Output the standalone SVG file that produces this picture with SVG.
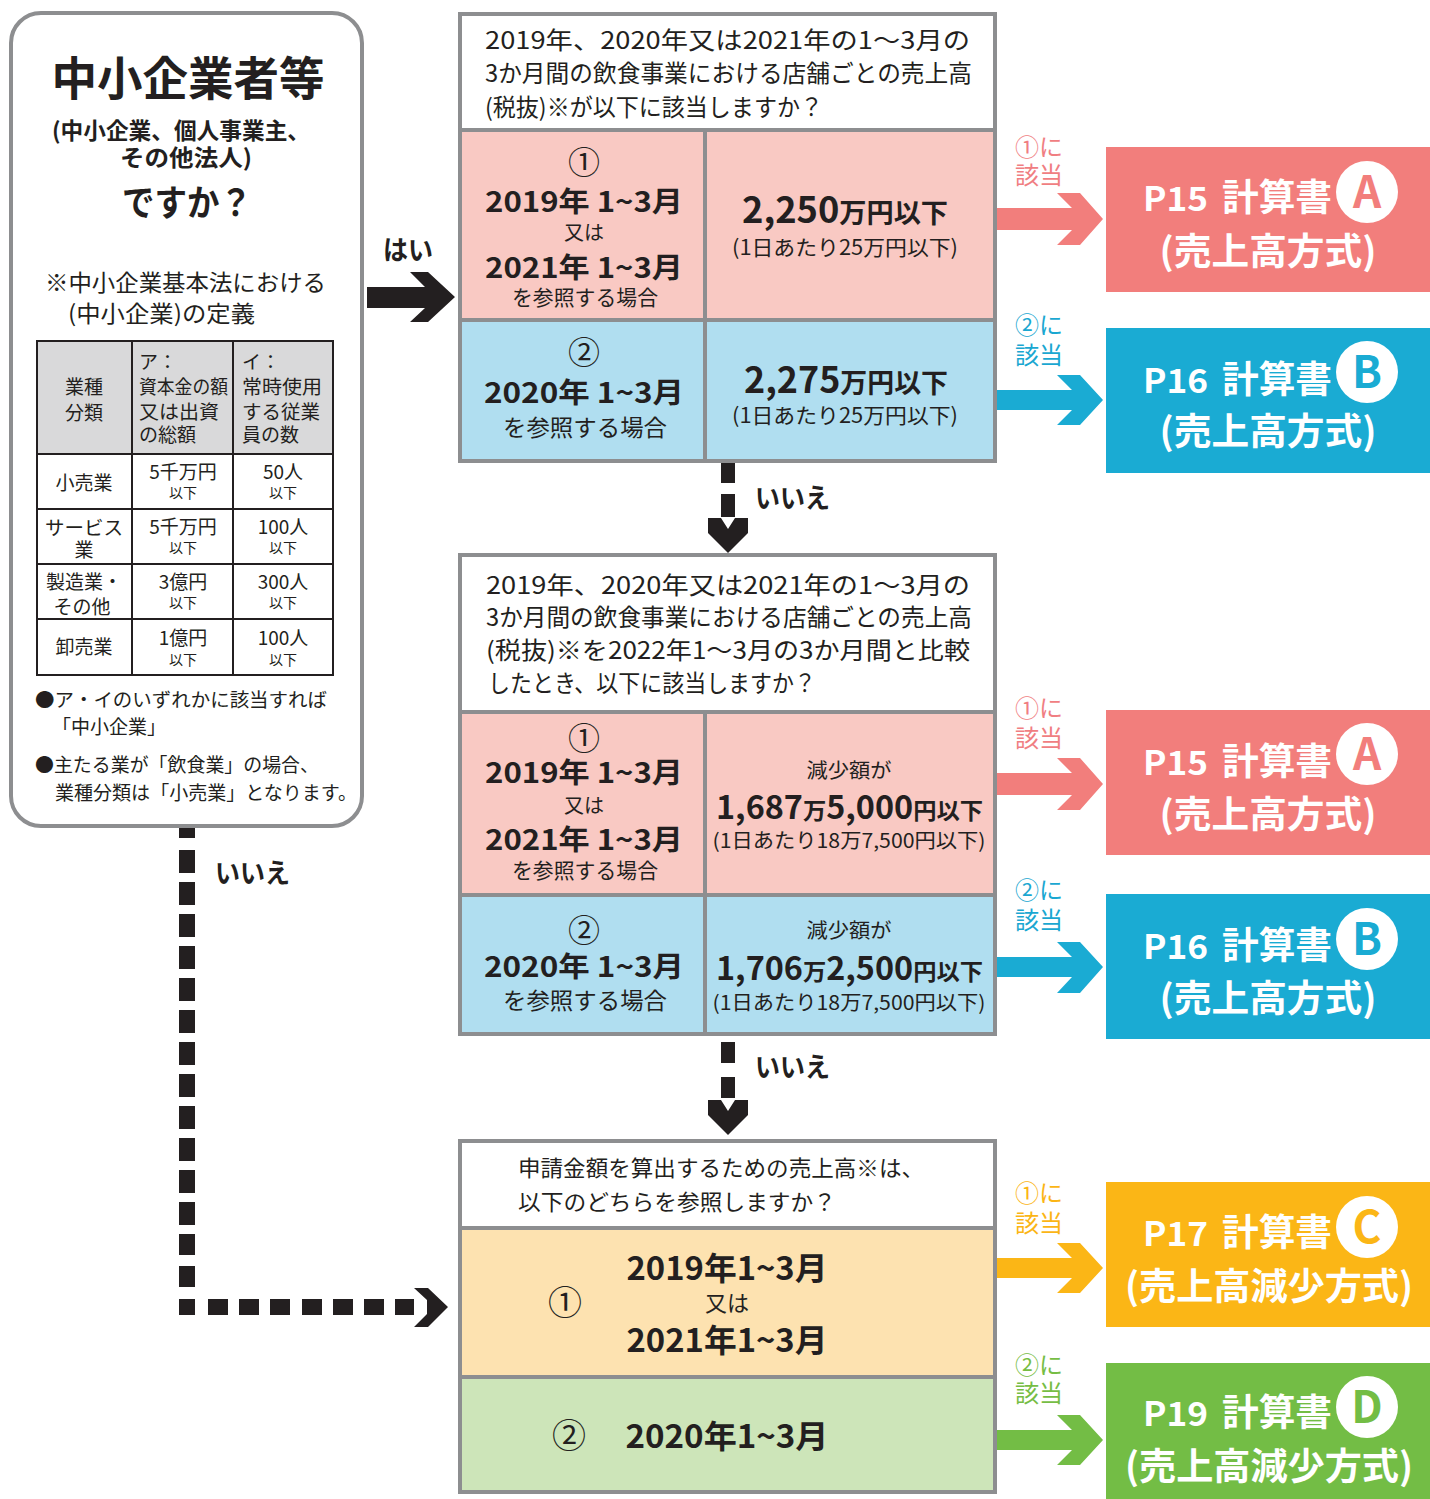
<svg xmlns="http://www.w3.org/2000/svg" width="1430" height="1499" viewBox="0 0 1430 1499">
<style>
.t{font-family:"Noto Sans CJK JP","Noto Sans",sans-serif;fill:#231f20}
.b{font-weight:700}
.m{text-anchor:middle}
.w{fill:#fff}
.brd{fill:none;stroke:#8d8e90;stroke-width:4}
.ln{stroke:#8d8e90;stroke-width:4}
.tb{fill:none;stroke:#231f20;stroke-width:2}
.blk{fill:#231f20}
.pk{fill:#f27e7c}
.bl{fill:#1aabd3}
.or{fill:#fbb616}
.gr{fill:#73bd45}
</style>
<rect width="1430" height="1499" fill="#fff"/>

<g id="sme-question">
<rect x="11" y="13" width="351" height="813" rx="30" ry="30" fill="#fff" stroke="#8d8e90" stroke-width="4"/>
<text class="t b m" x="188" y="95" font-size="46" textLength="273" lengthAdjust="spacingAndGlyphs">中小企業者等</text>
<text class="t b" x="52" y="139" font-size="23" textLength="258" lengthAdjust="spacingAndGlyphs">(中小企業、個人事業主、</text>
<text class="t b" x="120" y="166" font-size="23" textLength="132" lengthAdjust="spacingAndGlyphs">その他法人)</text>
<text class="t b" x="122" y="216" font-size="36" textLength="130" lengthAdjust="spacingAndGlyphs">ですか？</text>
<text class="t" x="45" y="291" font-size="23" textLength="281" lengthAdjust="spacingAndGlyphs">※中小企業基本法における</text>
<text class="t" x="68" y="322" font-size="23" textLength="187" lengthAdjust="spacingAndGlyphs">(中小企業)の定義</text>
<rect x="37" y="341" width="296" height="113" fill="#d9d9da"/>
<rect x="37" y="341" width="296" height="334" class="tb"/>
<path class="tb" d="M132,341V675M233,341V675M37,454H333M37,509H333M37,564H333M37,619H333"/>
<g font-size="19">
<text class="t m" x="84" y="394">業種</text>
<text class="t m" x="84" y="420">分類</text>
<text class="t" x="139" y="369">ア：</text>
<text class="t" x="139" y="394" textLength="89" lengthAdjust="spacingAndGlyphs">資本金の額</text>
<text class="t" x="139" y="419" textLength="80" lengthAdjust="spacingAndGlyphs">又は出資</text>
<text class="t" x="139" y="442">の総額</text>
<text class="t" x="242" y="369">イ：</text>
<text class="t" x="242" y="394" textLength="80" lengthAdjust="spacingAndGlyphs">常時使用</text>
<text class="t" x="242" y="419" textLength="78" lengthAdjust="spacingAndGlyphs">する従業</text>
<text class="t" x="242" y="442">員の数</text>
<text class="t m" x="84" y="490">小売業</text>
<text class="t m" x="183" y="479">5千万円</text>
<text class="t m" x="283" y="479">50人</text>
<text class="t m" x="84" y="535" textLength="78" lengthAdjust="spacingAndGlyphs">サービス</text>
<text class="t m" x="84" y="557">業</text>
<text class="t m" x="183" y="534">5千万円</text>
<text class="t m" x="283" y="534">100人</text>
<text class="t m" x="84" y="589">製造業・</text>
<text class="t m" x="82" y="614">その他</text>
<text class="t m" x="183" y="589">3億円</text>
<text class="t m" x="283" y="589">300人</text>
<text class="t m" x="84" y="654">卸売業</text>
<text class="t m" x="183" y="645">1億円</text>
<text class="t m" x="283" y="645">100人</text>
</g>
<g font-size="14">
<text class="t m" x="183" y="498">以下</text>
<text class="t m" x="283" y="498">以下</text>
<text class="t m" x="183" y="553">以下</text>
<text class="t m" x="283" y="553">以下</text>
<text class="t m" x="183" y="608">以下</text>
<text class="t m" x="283" y="608">以下</text>
<text class="t m" x="183" y="665">以下</text>
<text class="t m" x="283" y="665">以下</text>
</g>
<g font-size="19">
<text class="t" x="35" y="707" textLength="292" lengthAdjust="spacingAndGlyphs">●ア・イのいずれかに該当すれば</text>
<text class="t" x="52" y="734">「中小企業」</text>
<text class="t" x="35" y="772" textLength="284" lengthAdjust="spacingAndGlyphs">●主たる業が「飲食業」の場合、</text>
<text class="t" x="55" y="800" textLength="302" lengthAdjust="spacingAndGlyphs">業種分類は「小売業」となります。</text>
</g>
</g>

<g id="q1">
<rect x="460" y="14" width="535" height="116" fill="#fff"/>
<rect x="460" y="130" width="535" height="190" fill="#f9c9c3"/>
<rect x="460" y="320" width="535" height="141" fill="#b0def0"/>
<rect x="460" y="14" width="535" height="447" class="brd"/>
<path class="ln" d="M460,130H995M460,320H995M705,130V461"/>
<g font-size="24">
<text class="t" x="485" y="49" textLength="485" lengthAdjust="spacingAndGlyphs">2019年、2020年又は2021年の1～3月の</text>
<text class="t" x="485" y="82" textLength="487" lengthAdjust="spacingAndGlyphs">3か月間の飲食事業における店舗ごとの売上高</text>
<text class="t" x="485" y="116" textLength="338" lengthAdjust="spacingAndGlyphs">(税抜)※が以下に該当しますか？</text>
</g>
<text class="t m" x="584" y="174" font-size="32">①</text>
<text class="t b m" x="584" y="212" font-size="28" textLength="198" lengthAdjust="spacingAndGlyphs">2019年 1~3月</text>
<text class="t m" x="584" y="240" font-size="20">又は</text>
<text class="t b m" x="584" y="278" font-size="28" textLength="198" lengthAdjust="spacingAndGlyphs">2021年 1~3月</text>
<text class="t m" x="585" y="305" font-size="21" textLength="146" lengthAdjust="spacingAndGlyphs">を参照する場合</text>
<text class="t b" x="742" y="223" textLength="206" lengthAdjust="spacingAndGlyphs"><tspan font-size="36">2,250</tspan><tspan font-size="27">万円以下</tspan></text>
<text class="t m" x="845" y="255" font-size="21" textLength="226" lengthAdjust="spacingAndGlyphs">(1日あたり25万円以下)</text>
<text class="t m" x="584" y="364" font-size="32">②</text>
<text class="t b m" x="584" y="403" font-size="28" textLength="200" lengthAdjust="spacingAndGlyphs">2020年 1~3月</text>
<text class="t m" x="585" y="436" font-size="23" textLength="164" lengthAdjust="spacingAndGlyphs">を参照する場合</text>
<text class="t b" x="744" y="393" textLength="204" lengthAdjust="spacingAndGlyphs"><tspan font-size="36">2,275</tspan><tspan font-size="27">万円以下</tspan></text>
<text class="t m" x="845" y="423" font-size="21" textLength="226" lengthAdjust="spacingAndGlyphs">(1日あたり25万円以下)</text>
</g>

<g id="q2">
<rect x="460" y="555" width="535" height="157" fill="#fff"/>
<rect x="460" y="712" width="535" height="183" fill="#f9c9c3"/>
<rect x="460" y="895" width="535" height="139" fill="#b0def0"/>
<rect x="460" y="555" width="535" height="479" class="brd"/>
<path class="ln" d="M460,712H995M460,895H995M705,712V1034"/>
<g font-size="24">
<text class="t" x="486" y="594" textLength="484" lengthAdjust="spacingAndGlyphs">2019年、2020年又は2021年の1～3月の</text>
<text class="t" x="486" y="626" textLength="486" lengthAdjust="spacingAndGlyphs">3か月間の飲食事業における店舗ごとの売上高</text>
<text class="t" x="486" y="659" textLength="484" lengthAdjust="spacingAndGlyphs">(税抜)※を2022年1～3月の3か月間と比較</text>
<text class="t" x="488" y="692" textLength="328" lengthAdjust="spacingAndGlyphs">したとき、以下に該当しますか？</text>
</g>
<text class="t m" x="584" y="750" font-size="32">①</text>
<text class="t b m" x="584" y="783" font-size="28" textLength="198" lengthAdjust="spacingAndGlyphs">2019年 1~3月</text>
<text class="t m" x="584" y="813" font-size="20">又は</text>
<text class="t b m" x="584" y="850" font-size="28" textLength="198" lengthAdjust="spacingAndGlyphs">2021年 1~3月</text>
<text class="t m" x="585" y="878" font-size="21" textLength="146" lengthAdjust="spacingAndGlyphs">を参照する場合</text>
<text class="t m" x="849" y="778" font-size="20" textLength="85" lengthAdjust="spacingAndGlyphs">減少額が</text>
<text class="t b" x="716" y="819" textLength="267" lengthAdjust="spacingAndGlyphs"><tspan font-size="32">1,687</tspan><tspan font-size="23">万</tspan><tspan font-size="32">5,000</tspan><tspan font-size="23">円以下</tspan></text>
<text class="t m" x="849" y="848" font-size="20" textLength="273" lengthAdjust="spacingAndGlyphs">(1日あたり18万7,500円以下)</text>
<text class="t m" x="584" y="942" font-size="32">②</text>
<text class="t b m" x="584" y="977" font-size="28" textLength="200" lengthAdjust="spacingAndGlyphs">2020年 1~3月</text>
<text class="t m" x="585" y="1009" font-size="23" textLength="164" lengthAdjust="spacingAndGlyphs">を参照する場合</text>
<text class="t m" x="849" y="938" font-size="20" textLength="85" lengthAdjust="spacingAndGlyphs">減少額が</text>
<text class="t b" x="716" y="980" textLength="267" lengthAdjust="spacingAndGlyphs"><tspan font-size="32">1,706</tspan><tspan font-size="23">万</tspan><tspan font-size="32">2,500</tspan><tspan font-size="23">円以下</tspan></text>
<text class="t m" x="849" y="1010" font-size="20" textLength="273" lengthAdjust="spacingAndGlyphs">(1日あたり18万7,500円以下)</text>
</g>

<g id="q3">
<rect x="460" y="1141" width="535" height="87" fill="#fff"/>
<rect x="460" y="1228" width="535" height="149" fill="#fde2b0"/>
<rect x="460" y="1377" width="535" height="115" fill="#cde5b9"/>
<rect x="460" y="1141" width="535" height="351" class="brd"/>
<path class="ln" d="M460,1228H995M460,1377H995"/>
<text class="t" x="518" y="1176" font-size="22" textLength="406" lengthAdjust="spacingAndGlyphs">申請金額を算出するための売上高※は、</text>
<text class="t" x="518" y="1210" font-size="22" textLength="318" lengthAdjust="spacingAndGlyphs">以下のどちらを参照しますか？</text>
<text class="t m" x="565" y="1315" font-size="34">①</text>
<text class="t b m" x="727" y="1280" font-size="32" textLength="201" lengthAdjust="spacingAndGlyphs">2019年1~3月</text>
<text class="t m" x="727" y="1311" font-size="22">又は</text>
<text class="t b m" x="727" y="1352" font-size="32" textLength="201" lengthAdjust="spacingAndGlyphs">2021年1~3月</text>
<text class="t m" x="569" y="1448" font-size="34">②</text>
<text class="t b m" x="727" y="1448" font-size="32" textLength="203" lengthAdjust="spacingAndGlyphs">2020年1~3月</text>
</g>

<g id="calc-a1">
<rect x="1106" y="147" width="324" height="145" class="pk"/>
<text class="t b w" x="1143" y="211" font-size="33" textLength="65" lengthAdjust="spacingAndGlyphs">P15</text>
<text class="t b w" x="1222" y="211" font-size="37" textLength="110" lengthAdjust="spacingAndGlyphs">計算書</text>
<circle cx="1367" cy="192" r="31" fill="#fff"/>
<text class="t b m" x="1367" y="208" font-size="44" fill="#f27e7c" style="fill:#f27e7c">A</text>
<text class="t b w m" x="1268" y="265" font-size="37" textLength="217" lengthAdjust="spacingAndGlyphs">(売上高方式)</text>
</g>
<g id="calc-b1">
<rect x="1106" y="328" width="324" height="145" class="bl"/>
<text class="t b w" x="1143" y="393" font-size="33" textLength="65" lengthAdjust="spacingAndGlyphs">P16</text>
<text class="t b w" x="1222" y="393" font-size="37" textLength="110" lengthAdjust="spacingAndGlyphs">計算書</text>
<circle cx="1367" cy="372" r="31" fill="#fff"/>
<text class="t b m" x="1367" y="388" font-size="44" style="fill:#1aabd3">B</text>
<text class="t b w m" x="1268" y="445" font-size="37" textLength="217" lengthAdjust="spacingAndGlyphs">(売上高方式)</text>
</g>
<g id="calc-a2">
<rect x="1106" y="710" width="324" height="145" class="pk"/>
<text class="t b w" x="1143" y="775" font-size="33" textLength="65" lengthAdjust="spacingAndGlyphs">P15</text>
<text class="t b w" x="1222" y="775" font-size="37" textLength="110" lengthAdjust="spacingAndGlyphs">計算書</text>
<circle cx="1367" cy="754" r="31" fill="#fff"/>
<text class="t b m" x="1367" y="770" font-size="44" style="fill:#f27e7c">A</text>
<text class="t b w m" x="1268" y="828" font-size="37" textLength="217" lengthAdjust="spacingAndGlyphs">(売上高方式)</text>
</g>
<g id="calc-b2">
<rect x="1106" y="894" width="324" height="145" class="bl"/>
<text class="t b w" x="1143" y="959" font-size="33" textLength="65" lengthAdjust="spacingAndGlyphs">P16</text>
<text class="t b w" x="1222" y="959" font-size="37" textLength="110" lengthAdjust="spacingAndGlyphs">計算書</text>
<circle cx="1367" cy="939" r="31" fill="#fff"/>
<text class="t b m" x="1367" y="955" font-size="44" style="fill:#1aabd3">B</text>
<text class="t b w m" x="1268" y="1012" font-size="37" textLength="217" lengthAdjust="spacingAndGlyphs">(売上高方式)</text>
</g>
<g id="calc-c">
<rect x="1106" y="1182" width="324" height="145" class="or"/>
<text class="t b w" x="1143" y="1246" font-size="33" textLength="65" lengthAdjust="spacingAndGlyphs">P17</text>
<text class="t b w" x="1222" y="1246" font-size="37" textLength="110" lengthAdjust="spacingAndGlyphs">計算書</text>
<circle cx="1367" cy="1227" r="31" fill="#fff"/>
<text class="t b m" x="1367" y="1243" font-size="44" style="fill:#fbb616">C</text>
<text class="t b w m" x="1269" y="1300" font-size="37" textLength="288" lengthAdjust="spacingAndGlyphs">(売上高減少方式)</text>
</g>
<g id="calc-d">
<rect x="1106" y="1363" width="324" height="136" class="gr"/>
<text class="t b w" x="1143" y="1426" font-size="33" textLength="65" lengthAdjust="spacingAndGlyphs">P19</text>
<text class="t b w" x="1222" y="1426" font-size="37" textLength="110" lengthAdjust="spacingAndGlyphs">計算書</text>
<circle cx="1367" cy="1407" r="31" fill="#fff"/>
<text class="t b m" x="1367" y="1423" font-size="44" style="fill:#73bd45">D</text>
<text class="t b w m" x="1269" y="1480" font-size="37" textLength="288" lengthAdjust="spacingAndGlyphs">(売上高減少方式)</text>
</g>

<g id="connectors">
<text class="t b" x="383" y="260" font-size="27" textLength="50" lengthAdjust="spacingAndGlyphs">はい</text>
<polygon class="blk" points="367,287 425,287 410,272 428,272 455,297 428,322 410,322 425,308 367,308"/>
<path class="blk" d="M721,463h14v20h-14zM721,494h14v23h-14z"/>
<polygon class="blk" points="708,518 721,518 728,529 735,518 748,518 748,533 728,553 708,533"/>
<text class="t b" x="755" y="508" font-size="27" textLength="75" lengthAdjust="spacingAndGlyphs">いいえ</text>
<path class="blk" d="M721,1042h14v21h-14zM721,1077h14v21h-14z"/>
<polygon class="blk" points="708,1100 721,1100 728,1111 735,1100 748,1100 748,1115 728,1135 708,1115"/>
<text class="t b" x="755" y="1077" font-size="27" textLength="75" lengthAdjust="spacingAndGlyphs">いいえ</text>
<path class="blk" d="M179,828h16v10h-16zM179,850h16v23h-16zM179,882h16v23h-16zM179,914h16v23h-16zM179,946h16v23h-16zM179,978h16v23h-16zM179,1010h16v23h-16zM179,1042h16v23h-16zM179,1074h16v23h-16zM179,1106h16v23h-16zM179,1138h16v23h-16zM179,1170h16v23h-16zM179,1202h16v23h-16zM179,1234h16v21h-16zM179,1266h16v21h-16zM179,1299h16v16h-16zM208,1299h20v16h-20zM239,1299h20v16h-20zM270,1299h20v16h-20zM302,1299h20v16h-20zM333,1299h20v16h-20zM364,1299h20v16h-20zM395,1299h19v16h-19z"/>
<polygon class="blk" points="414,1288 428,1288 448,1307 428,1327 414,1327 427,1314 427,1300"/>
<text class="t b" x="215" y="883" font-size="27" textLength="75" lengthAdjust="spacingAndGlyphs">いいえ</text>

<polygon class="pk" points="997,208 1072,208 1057,193 1080,193 1103,219 1080,245 1057,245 1072,230 997,230"/>
<text class="t" x="1015" y="156" font-size="24" style="fill:#f07e82">①に</text>
<text class="t" x="1015" y="184" font-size="24" style="fill:#f07e82">該当</text>
<polygon class="bl" points="997,390 1072,390 1057,375 1080,375 1103,400 1080,425 1057,425 1072,410 997,410"/>
<text class="t" x="1015" y="334" font-size="24" style="fill:#1aa7d1">②に</text>
<text class="t" x="1015" y="364" font-size="24" style="fill:#1aa7d1">該当</text>
<polygon class="pk" points="997,773 1072,773 1057,758 1080,758 1103,784 1080,810 1057,810 1072,795 997,795"/>
<text class="t" x="1015" y="717" font-size="24" style="fill:#f07e82">①に</text>
<text class="t" x="1015" y="747" font-size="24" style="fill:#f07e82">該当</text>
<polygon class="bl" points="997,957 1072,957 1057,942 1080,942 1103,967 1080,993 1057,993 1072,977 997,977"/>
<text class="t" x="1015" y="899" font-size="24" style="fill:#1aa7d1">②に</text>
<text class="t" x="1015" y="929" font-size="24" style="fill:#1aa7d1">該当</text>
<polygon class="or" points="997,1258 1072,1258 1057,1243 1080,1243 1103,1268 1080,1293 1057,1293 1072,1278 997,1278"/>
<text class="t" x="1015" y="1202" font-size="24" style="fill:#fbb515">①に</text>
<text class="t" x="1015" y="1232" font-size="24" style="fill:#fbb515">該当</text>
<polygon class="gr" points="997,1430 1072,1430 1057,1415 1080,1415 1103,1440 1080,1465 1057,1465 1072,1450 997,1450"/>
<text class="t" x="1015" y="1374" font-size="24" style="fill:#76bd44">②に</text>
<text class="t" x="1015" y="1402" font-size="24" style="fill:#76bd44">該当</text>
</g>
</svg>
